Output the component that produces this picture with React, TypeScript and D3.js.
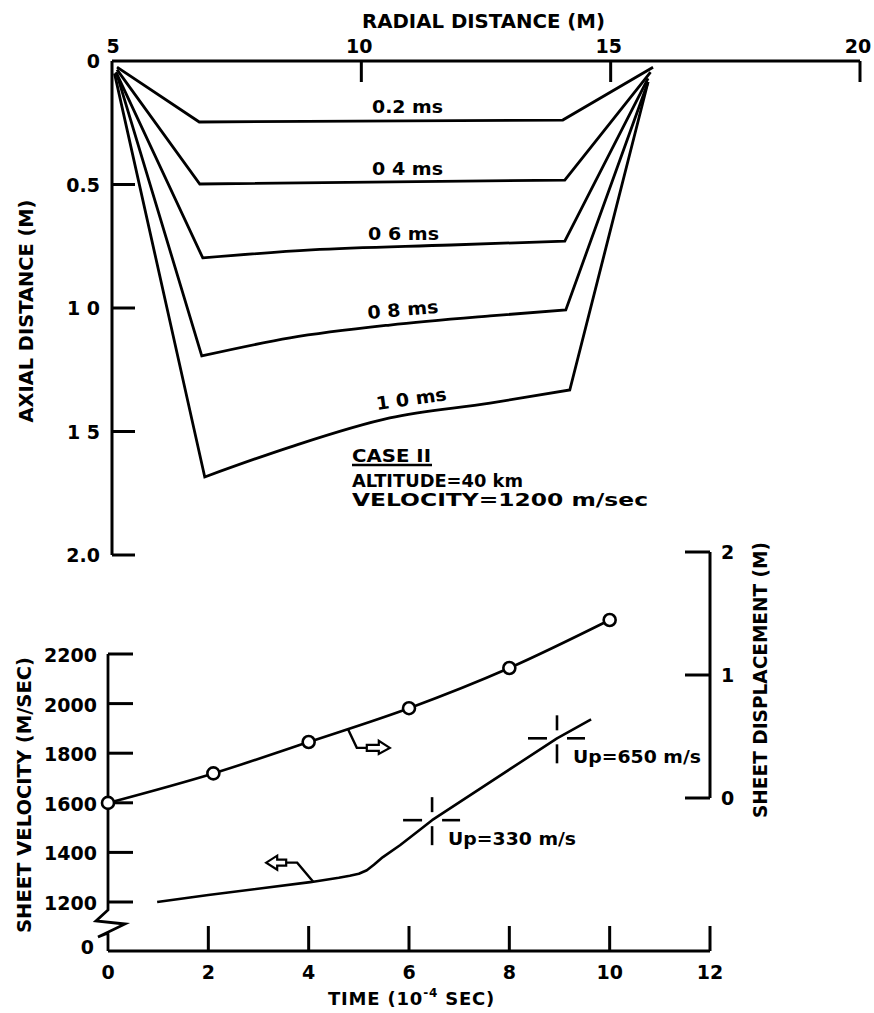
import React from 'react';
import * as d3 from 'd3';

// ---------- Top chart data (radial distance m, axial distance m) ----------
const radialTicks = [5, 10, 15, 20];
const axialTicks = [0, 0.5, 1.0, 1.5, 2.0];
const axialTickLabels = ['0', '0.5', '1 0', '1 5', '2.0'];

const sheetLabels = ['0.2 ms', '0 4 ms', '0 6 ms', '0 8 ms', '1 0 ms'];
const sheet02: [number, number][] = [[5.1, 0.025], [6.75, 0.247], [14.04, 0.239], [15.85, 0.025]];
const sheet04: [number, number][] = [[5.1, 0.035], [6.76, 0.498], [14.08, 0.482], [15.8, 0.045]];
const sheet06: [number, number][] = [[5.08, 0.045], [6.82, 0.797], [9.0, 0.765], [11.8, 0.745], [14.08, 0.729], [15.75, 0.07]];
const sheet08: [number, number][] = [[5.1, 0.055], [6.8, 1.194], [8.57, 1.121], [10.57, 1.069], [12.58, 1.032], [14.1, 1.008], [15.75, 0.085]];
const sheet10: [number, number][] = [[5.05, 0.05], [6.86, 1.684], [8.57, 1.563], [10.57, 1.445], [12.58, 1.385], [14.18, 1.332], [15.75, 0.085]];
const sheets = [sheet02, sheet04, sheet06, sheet08, sheet10];

// ---------- Bottom chart data ----------
const timeTicks = [0, 2, 4, 6, 8, 10, 12];
const velocityTicks = [1200, 1400, 1600, 1800, 2000, 2200];
const dispTicks = [0, 1, 2];
const dispTickLabels = ['0', '1', '2'];

const dispTime = [0, 2.1, 4, 6, 8, 10];
const dispValue = [-0.04, 0.2, 0.455, 0.73, 1.057, 1.447];

const velTime = [0.98, 2, 4.03, 4.6, 4.82, 5.0, 5.16, 5.3, 5.48, 5.82, 6.16, 6.46, 8.95, 9.63];
const velValue = [1200, 1228, 1280, 1298, 1306, 1314, 1328, 1350, 1381, 1429, 1482, 1530, 1860, 1936];

const upTime = [6.46, 8.95];
const upVel = [1530, 1860];
const upLabels = ['Up=330 m/s', 'Up=650 m/s'];

const FONT = '"DejaVu Sans", Arial, sans-serif';

export default function App() {
  // scales top
  const xR = d3.scaleLinear().domain([5, 20]).range([112, 860]);
  const yA = d3.scaleLinear().domain([0, 2]).range([61, 555]);
  // scales bottom
  const xT = d3.scaleLinear().domain([0, 12]).range([108, 710]);
  const yV = d3.scaleLinear().domain([1200, 2200]).range([902, 654]);
  const yD = d3.scaleLinear().domain([0, 2]).range([798, 552]);

  const midLine = d3
    .line<[number, number]>()
    .x((d) => xR(d[0]))
    .y((d) => yA(d[1]))
    .curve(d3.curveMonotoneX);

  // straight flanks, smooth middle section
  const sheetPath = (s: [number, number][]) => {
    const first = s[0];
    const last = s[s.length - 1];
    const mid = s.slice(1, s.length - 1);
    const midD = (midLine(mid) || '').replace(/^M/, 'L');
    return `M${xR(first[0])},${yA(first[1])}${midD}L${xR(last[0])},${yA(last[1])}`;
  };

  const dispPts = dispTime.map((t, i) => [t, dispValue[i]] as [number, number]);
  const dispLine = d3
    .line<[number, number]>()
    .x((d) => xT(d[0]))
    .y((d) => yD(d[1]))
    .curve(d3.curveMonotoneX);

  const velPts = velTime.map((t, i) => [t, velValue[i]] as [number, number]);
  const velLine = d3
    .line<[number, number]>()
    .x((d) => xT(d[0]))
    .y((d) => yV(d[1]));

  const txt = { fontFamily: FONT, fontWeight: 'bold' as const, fontSize: 19, fill: '#000' };

  // label placement for sheet curves
  const sheetLabelPos = [
    { x: 372, y: 113, r: 0 },
    { x: 372, y: 175, r: 0 },
    { x: 368, y: 240, r: 0 },
    { x: 368, y: 319, r: -5 },
    { x: 377, y: 410, r: -8 },
  ];

  // arrow attach points
  const dA = { x: xT(4.78), y: yD(dispValue[2] + (dispValue[3] - dispValue[2]) * 0.39) };
  const vA = { x: xT(4.09), y: yV(1282) };

  return (
    <svg
      width={874}
      height={1013}
      viewBox="0 0 874 1013"
      style={{ position: 'absolute', left: 0, top: 0, background: '#fff' }}
    >
      <rect x={0} y={0} width={874} height={1013} fill="#fff" />

      {/* ================= TOP CHART ================= */}
      <text {...txt} fontSize={19} x={483.5} y={28} textAnchor="middle" textLength={243} lengthAdjust="spacingAndGlyphs">
        RADIAL DISTANCE (M)
      </text>
      {/* top axis */}
      <line x1={xR(5)} x2={xR(20)} y1={yA(0)} y2={yA(0)} stroke="#000" strokeWidth={3} />
      {radialTicks.map((t) => (
        <g key={'rt' + t}>
          {t !== 5 && <line x1={xR(t)} x2={xR(t)} y1={yA(0)} y2={yA(0) + 21} stroke="#000" strokeWidth={3} />}
          <text {...txt} x={xR(t) + (t === 5 ? 1 : -2)} y={53} textAnchor="middle">
            {t}
          </text>
        </g>
      ))}
      {/* left axis */}
      <line x1={xR(5)} x2={xR(5)} y1={yA(0)} y2={yA(2)} stroke="#000" strokeWidth={3} />
      {axialTicks.map((a, i) => (
        <g key={'at' + a}>
          {a !== 0 && <line x1={xR(5)} x2={xR(5) + 23} y1={yA(a)} y2={yA(a)} stroke="#000" strokeWidth={3} />}
          <text {...txt} x={100} y={yA(a) + 7} textAnchor="end">
            {axialTickLabels[i]}
          </text>
        </g>
      ))}
      <text
        {...txt}
        transform="translate(33,311) rotate(-90)"
        x={0}
        y={0}
        textAnchor="middle"
        textLength={223}
        lengthAdjust="spacingAndGlyphs"
      >
        AXIAL DISTANCE (M)
      </text>

      {/* sheet profiles */}
      {sheets.map((s, i) => (
        <path key={'s' + i} d={sheetPath(s)} fill="none" stroke="#000" strokeWidth={2.8} strokeLinejoin="miter" />
      ))}
      {sheetLabels.map((l, i) => (
        <text
          key={'sl' + i}
          {...txt}
          fontSize={18}
          transform={`translate(${sheetLabelPos[i].x},${sheetLabelPos[i].y}) rotate(${sheetLabelPos[i].r})`}
          textLength={71}
          lengthAdjust="spacingAndGlyphs"
        >
          {l}
        </text>
      ))}

      {/* case annotation */}
      <text {...txt} fontSize={18} x={352} y={462} textLength={79} lengthAdjust="spacingAndGlyphs">
        CASE II
      </text>
      <line x1={352} x2={432} y1={465} y2={465} stroke="#000" strokeWidth={2.5} />
      <text {...txt} fontSize={18} x={352} y={487} textLength={171} lengthAdjust="spacingAndGlyphs">
        ALTITUDE=40 km
      </text>
      <text {...txt} fontSize={18} x={352} y={506} textLength={296} lengthAdjust="spacingAndGlyphs">
        VELOCITY=1200 m/sec
      </text>

      {/* ================= BOTTOM CHART ================= */}
      {/* left axis with break */}
      <path
        d={`M${xT(0)},${yV(2200)} L${xT(0)},910 L96,921 L125,924 L98,937 L${xT(0)},933 L${xT(0)},951`}
        fill="none"
        stroke="#000"
        strokeWidth={2.8}
        strokeLinejoin="miter"
      />
      {velocityTicks.map((v) => (
        <g key={'vt' + v}>
          <line x1={xT(0)} x2={xT(0) + 25} y1={yV(v)} y2={yV(v)} stroke="#000" strokeWidth={3} />
          <text {...txt} x={97} y={yV(v) + 8} textAnchor="end">
            {v}
          </text>
        </g>
      ))}
      <text {...txt} x={94} y={954} textAnchor="end">
        0
      </text>
      <text
        {...txt}
        transform="translate(31,795) rotate(-90)"
        textAnchor="middle"
        textLength={276}
        lengthAdjust="spacingAndGlyphs"
      >
        SHEET VELOCITY (M/SEC)
      </text>

      {/* x axis */}
      <line x1={xT(0)} x2={xT(12)} y1={951} y2={951} stroke="#000" strokeWidth={3} />
      {timeTicks.map((t) => (
        <g key={'tt' + t}>
          {t !== 0 && <line x1={xT(t)} x2={xT(t)} y1={951} y2={926} stroke="#000" strokeWidth={3} />}
          <text {...txt} x={xT(t)} y={979} textAnchor="middle">
            {t}
          </text>
        </g>
      ))}
      <text {...txt} fontSize={18} x={328} y={1005} letterSpacing={0.8}>
        <tspan>TIME  (10</tspan>
        <tspan fontSize={12} dy={-8}>
          -4
        </tspan>
        <tspan dy={8}> SEC)</tspan>
      </text>

      {/* right axis */}
      <line x1={710} x2={710} y1={yD(2)} y2={yD(0)} stroke="#000" strokeWidth={3} />
      {dispTicks.map((d, i) => (
        <g key={'dt' + d}>
          <line x1={685} x2={710} y1={yD(d)} y2={yD(d)} stroke="#000" strokeWidth={3} />
          <text {...txt} x={721} y={yD(d) + 7}>
            {dispTickLabels[i]}
          </text>
        </g>
      ))}
      <text
        {...txt}
        transform="translate(767,680) rotate(-90)"
        textAnchor="middle"
        textLength={276}
        lengthAdjust="spacingAndGlyphs"
      >
        SHEET DISPLACEMENT (M)
      </text>

      {/* displacement series */}
      <path d={dispLine(dispPts) || ''} fill="none" stroke="#000" strokeWidth={2.6} />
      {dispPts.map((p, i) => (
        <circle key={'dc' + i} cx={xT(p[0])} cy={yD(p[1])} r={6} fill="#fff" stroke="#000" strokeWidth={2.6} />
      ))}

      {/* velocity series */}
      <path d={velLine(velPts) || ''} fill="none" stroke="#000" strokeWidth={2.6} strokeLinejoin="round" />

      {/* crosshair markers */}
      {upTime.map((t, i) => {
        const cx = xT(t);
        const cy = yV(upVel[i]);
        return (
          <g key={'up' + i} stroke="#000" strokeWidth={2.6}>
            <line x1={cx} x2={cx} y1={cy - 23} y2={cy - 8} />
            <line x1={cx} x2={cx} y1={cy + 6} y2={cy + 25} />
            <line x1={cx - 29} x2={cx - 10} y1={cy} y2={cy} />
            <line x1={cx + 10} x2={cx + 28} y1={cy} y2={cy} />
            <text
              {...txt}
              stroke="none"
              fontSize={17}
              x={cx + 16}
              y={cy + 25}
              textLength={128}
              lengthAdjust="spacingAndGlyphs"
            >
              {upLabels[i]}
            </text>
          </g>
        );
      })}

      {/* pointer arrows */}
      <path
        d={`M${dA.x},${dA.y} L${dA.x + 9},${dA.y + 19} L${dA.x + 19},${dA.y + 19}`}
        fill="none"
        stroke="#000"
        strokeWidth={2.4}
      />
      <path
        d={`M${dA.x + 19},${dA.y + 16} L${dA.x + 31},${dA.y + 16} L${dA.x + 31},${dA.y + 12} L${dA.x + 42},${dA.y + 19} L${dA.x + 31},${dA.y + 25} L${dA.x + 31},${dA.y + 22} L${dA.x + 19},${dA.y + 22} Z`}
        fill="#fff"
        stroke="#000"
        strokeWidth={2.2}
      />
      <path
        d={`M${vA.x},${vA.y} L${vA.x - 16},${vA.y - 19} L${vA.x - 27},${vA.y - 19}`}
        fill="none"
        stroke="#000"
        strokeWidth={2.4}
      />
      <path
        d={`M${vA.x - 27},${vA.y - 22} L${vA.x - 36},${vA.y - 22} L${vA.x - 36},${vA.y - 26} L${vA.x - 47},${vA.y - 19} L${vA.x - 36},${vA.y - 12} L${vA.x - 36},${vA.y - 16} L${vA.x - 27},${vA.y - 16} Z`}
        fill="#fff"
        stroke="#000"
        strokeWidth={2.2}
      />
    </svg>
  );
}
